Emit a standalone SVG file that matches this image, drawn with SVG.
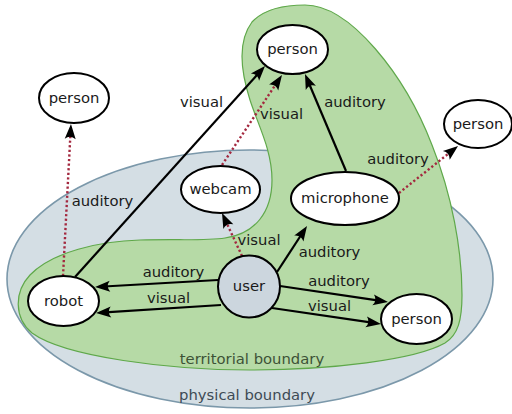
<svg xmlns="http://www.w3.org/2000/svg" width="512" height="414" viewBox="0 0 512 414">
<defs>
<marker id="ah" markerUnits="userSpaceOnUse" markerWidth="18" markerHeight="14" viewBox="-1 -7 18 14" refX="6" refY="0" orient="auto">
<path d="M15,0 L0,-5.5 Q4.5,0 0,5.5 Z" fill="#000"/>
</marker>
<style>
text{font-family:"DejaVu Sans","Liberation Sans",sans-serif;font-size:14.8px;fill:#1a1a1a;text-anchor:middle}
.node{fill:#fff;stroke:#000;stroke-width:2}
.solid{stroke:#000;stroke-width:2.2;fill:none;marker-end:url(#ah)}
.dot{stroke:#a3283f;stroke-width:2.4;stroke-dasharray:2.2 2.4;fill:none;marker-end:url(#ah)}
</style>
</defs>
<g id="physical-boundary">
<ellipse cx="250" cy="279" rx="243" ry="129" fill="#d4dee4" stroke="#7b98aa" stroke-width="1.6"/>
<text x="247" y="400" style="fill:#3e4b55">physical boundary</text>
</g>
<g id="territorial-boundary">
<path d="M305,5 C350,5 405,75 432,145 C452,195 462,250 462,295 C462,320 458,335 445,343 C415,360 330,370 250,370 C170,370 65,357 32,333 C14,318 14,292 30,275 C52,252 100,241 140,240 C180,239 205,241 225,238 C255,234 272,212 272,180 C272,150 258,125 250,100 C241,72 237,42 252,22 C265,8 285,5 305,5 Z" fill="#b6daa6" stroke="#5fa84a" stroke-width="1.2"/>
<text x="252" y="364" style="fill:#3d5236">territorial boundary</text>
</g>
<g id="connectors">
<line class="dot" x1="63" y1="276" x2="70.5" y2="133"/>
<text x="102.5" y="206">auditory</text>
<line class="solid" x1="75" y1="277" x2="259" y2="72.7"/>
<text x="201.5" y="107">visual</text>
<line class="dot" x1="222" y1="165" x2="277" y2="82.5"/>
<text x="281.5" y="118.5">visual</text>
<line class="solid" x1="346" y1="171" x2="308.5" y2="82.3"/>
<text x="355" y="107">auditory</text>
<line class="dot" x1="399" y1="193" x2="451" y2="151.6"/>
<text x="398" y="163.5">auditory</text>
<line class="dot" x1="242" y1="256" x2="225.8" y2="221.2"/>
<text x="259" y="244.5">visual</text>
<line class="solid" x1="277" y1="272" x2="302.1" y2="233.5"/>
<text x="329.5" y="257">auditory</text>
<line class="solid" x1="218" y1="280" x2="104" y2="286.5"/>
<text x="173.5" y="277">auditory</text>
<line class="solid" x1="221" y1="305" x2="105" y2="312.4"/>
<text x="168.5" y="302.5">visual</text>
<line class="solid" x1="280" y1="286" x2="379.1" y2="300.7"/>
<text x="339" y="285.5">auditory</text>
<line class="solid" x1="272" y1="308" x2="372.1" y2="322.7"/>
<text x="329.5" y="311">visual</text>
</g>
<g id="person-topleft"><ellipse class="node" cx="74" cy="98" rx="35" ry="25"/><text x="74" y="102.5">person</text></g>
<g id="person-top"><ellipse class="node" cx="292.5" cy="49.5" rx="35.5" ry="24.5"/><text x="292.5" y="54">person</text></g>
<g id="person-right"><ellipse class="node" cx="478" cy="124" rx="34" ry="24"/><text x="478" y="128.5">person</text></g>
<g id="webcam"><ellipse class="node" cx="220.5" cy="189.5" rx="39.5" ry="23.5"/><text x="220.5" y="194">webcam</text></g>
<g id="microphone"><ellipse class="node" cx="345" cy="198.5" rx="54" ry="26.5"/><text x="345" y="203">microphone</text></g>
<g id="robot"><ellipse class="node" cx="63.5" cy="301" rx="35.5" ry="25"/><text x="63.5" y="305.5">robot</text></g>
<g id="user"><circle cx="249" cy="286.5" r="31" fill="#ccd6de" stroke="#000" stroke-width="2"/><text x="249" y="291">user</text></g>
<g id="person-bottomright"><ellipse class="node" cx="416.5" cy="319" rx="35.5" ry="25"/><text x="416.5" y="323.5">person</text></g>
</svg>
